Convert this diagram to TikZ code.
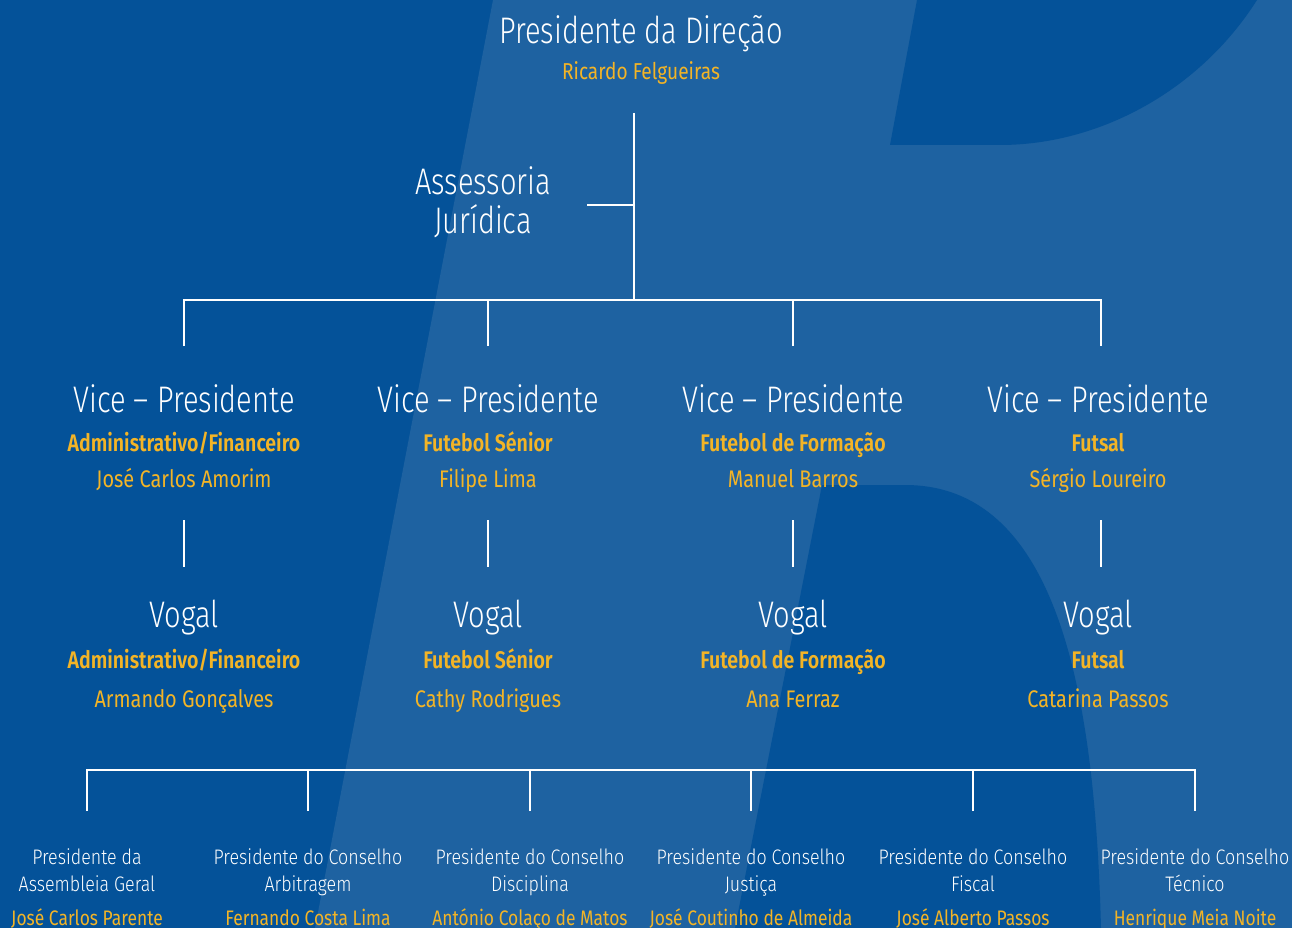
\documentclass[tikz,border=0pt]{standalone}
\usepackage{fontspec}
\setmainfont{Fira Sans}[FakeStretch=0.83]
\newfontfamily\lightfont{Fira Sans Light}[FakeStretch=0.785]
\newfontfamily\boardfont{Fira Sans Light}[FakeStretch=0.85]
\newfontfamily\semifont{Fira Sans SemiBold}[FakeStretch=0.815]
\definecolor{navy}{RGB}{4,82,153}
\definecolor{sky}{RGB}{30,98,161}
\definecolor{gold}{RGB}{243,180,38}
\tikzset{
  role/.style={anchor=base, text=white, inner sep=0pt, font=\lightfont\fontsize{37}{40}\selectfont},
  area/.style={anchor=base, text=gold, inner sep=0pt, font=\semifont\fontsize{24}{26}\selectfont},
  person/.style={anchor=base, text=gold, inner sep=0pt, font=\fontsize{24}{26}\selectfont},
  board/.style={anchor=base, text=white, inner sep=0pt, align=center, font=\boardfont\fontsize{21}{27}\selectfont},
  member/.style={anchor=base, text=gold, inner sep=0pt, font=\fontsize{21}{24}\selectfont},
  link/.style={white, line width=2.8pt},
}
\begin{document}
\begin{tikzpicture}[x=1pt, y=-1pt]
            \useasboundingbox (0,0) rectangle (1292,928);
            % background
            \fill[navy] (0,0) rectangle (1292,928);
            \fill[sky] (493,0) -- (1292,0) -- (1292,928) -- (315,928) -- cycle;
            \fill[navy] (917,0) -- (890,145) -- (1000,145) .. controls (1100,145) and (1200,90) .. (1257,0) -- cycle;
            \fill[navy] (822,485) -- (735,928) -- (1101,928) .. controls (1095,700) and (1060,485) .. (905,485) -- cycle;

            \node[role] (pres) at (641,44) {Presidente da Direção};
            \node[person, font=\fontsize{23}{26}\selectfont] (presn) at (641,80) {Ricardo Felgueiras};
            \node[role] (aj1) at (483,194) {Assessoria};
            \node[role] (aj2) at (483,233) {Jurídica};

            \coordinate (trunk) at (634,113);
            \coordinate (tap) at (634,205);
            \coordinate (ajlink) at (587,205);
            \coordinate (hub) at (634,300);
            \coordinate (b1) at (184,346);
            \coordinate (b2) at (488,346);
            \coordinate (b3) at (793,346);
            \coordinate (b4) at (1101,346);

            \draw[link] (trunk) -- (hub);
            \draw[link] (tap) -- (ajlink);
            \draw[link] (b1) |- (hub) -| (b4);
            \draw[link] (b2) -- (b2 |- hub);
            \draw[link] (b3) -- (b3 |- hub);

            % vice-presidents
            \node[role] (vp1) at (184,412) {Vice – Presidente};
            \node[area] (vp1a) at (184,451) {Administrativo/Financeiro};
            \node[person] (vp1n) at (184,487) {José Carlos Amorim};
            \node[role] (vp2) at (488,412) {Vice – Presidente};
            \node[area] (vp2a) at (488,451) {Futebol Sénior};
            \node[person] (vp2n) at (488,487) {Filipe Lima};
            \node[role] (vp3) at (793,412) {Vice – Presidente};
            \node[area] (vp3a) at (793,451) {Futebol de Formação};
            \node[person] (vp3n) at (793,487) {Manuel Barros};
            \node[role] (vp4) at (1098,412) {Vice – Presidente};
            \node[area] (vp4a) at (1098,451) {Futsal};
            \node[person] (vp4n) at (1098,487) {Sérgio Loureiro};

            % vogais
            \node[role] (v1) at (184,627) {Vogal};
            \node[area] (v1a) at (184,668) {Administrativo/Financeiro};
            \node[person] (v1n) at (184,707) {Armando Gonçalves};
            \node[role] (v2) at (488,627) {Vogal};
            \node[area] (v2a) at (488,668) {Futebol Sénior};
            \node[person] (v2n) at (488,707) {Cathy Rodrigues};
            \node[role] (v3) at (793,627) {Vogal};
            \node[area] (v3a) at (793,668) {Futebol de Formação};
            \node[person] (v3n) at (793,707) {Ana Ferraz};
            \node[role] (v4) at (1098,627) {Vogal};
            \node[area] (v4a) at (1098,668) {Futsal};
            \node[person] (v4n) at (1098,707) {Catarina Passos};

            \draw[link] ([yshift=-33pt]vp1n.base) -- ([yshift=60pt]v1.base);
            \draw[link] ([yshift=-33pt]vp2n.base) -- ([yshift=60pt]v2.base);
            \draw[link] ([yshift=-33pt]vp3n.base) -- ([yshift=60pt]v3.base);
            \draw[link] ([yshift=-33pt,xshift=3pt]vp4n.base) -- ([yshift=60pt,xshift=3pt]v4.base);

            % councils
            \coordinate (bus) at (641,770);
            \coordinate (d1) at (87,811);
            \coordinate (d2) at (308,811);
            \coordinate (d3) at (530,811);
            \coordinate (d4) at (751,811);
            \coordinate (d5) at (973,811);
            \coordinate (d6) at (1195,811);

            \draw[link] (d1) |- (bus) -| (d6);
            \draw[link] (d2) -- (d2 |- bus);
            \draw[link] (d3) -- (d3 |- bus);
            \draw[link] (d4) -- (d4 |- bus);
            \draw[link] (d5) -- (d5 |- bus);

            \node[board] (c1) at (87,891) {Presidente da\\Assembleia Geral};
            \node[member] (c1n) at (87,925) {José Carlos Parente};
            \node[board] (c2) at (308,891) {Presidente do Conselho\\Arbitragem};
            \node[member] (c2n) at (308,925) {Fernando Costa Lima};
            \node[board] (c3) at (530,891) {Presidente do Conselho\\Disciplina};
            \node[member] (c3n) at (530,925) {António Colaço de Matos};
            \node[board] (c4) at (751,891) {Presidente do Conselho\\Justiça};
            \node[member] (c4n) at (751,925) {José Coutinho de Almeida};
            \node[board] (c5) at (973,891) {Presidente do Conselho\\Fiscal};
            \node[member] (c5n) at (973,925) {José Alberto Passos};
            \node[board] (c6) at (1195,891) {Presidente do Conselho\\Técnico};
            \node[member] (c6n) at (1195,925) {Henrique Meia Noite};
        \end{tikzpicture}
\end{document}
